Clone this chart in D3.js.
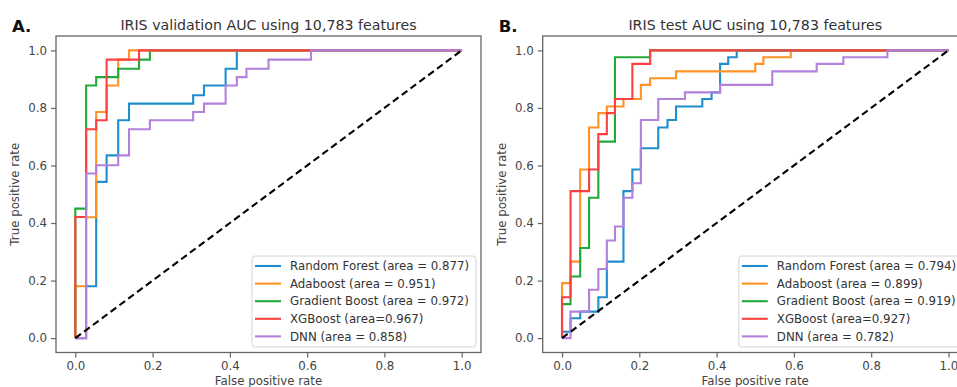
<!DOCTYPE html>
<html>
<head>
<meta charset="utf-8">
<script src="https://cdn.jsdelivr.net/npm/d3@7"></script>
<style>
    body { margin: 0; background: #fff; }
    svg text { font-family: "DejaVu Sans", sans-serif; }
</style>
</head>
<body>
<div id="chart"></div>
<script>
(function() {

    var width = 957;
    var height = 387;

    // names + colours of the five models
    var models = ["Random Forest", "Adaboost", "Gradient Boost", "XGBoost", "DNN"];
    var colors = ["#1f8ecd", "#ff9326", "#23a83a", "#ff4040", "#b380dc"];

    var ticks = [0.0, 0.2, 0.4, 0.6, 0.8, 1.0];

    // panel A, validation set: [fpr, tpr] corners
    var valRF = [[0,0],[0.028,0],[0.028,0.18],[0.054,0.18],[0.054,0.543],[0.081,0.543],[0.081,0.635],[0.111,0.635],[0.111,0.757],[0.139,0.757],[0.139,0.815],[0.305,0.815],[0.305,0.844],[0.333,0.844],[0.333,0.878],[0.389,0.878],[0.389,0.936],[0.418,0.936],[0.418,1],[1,1]];
    var valAda = [[0,0],[0,0.18],[0.028,0.18],[0.028,0.42],[0.054,0.42],[0.054,0.786],[0.081,0.786],[0.081,0.878],[0.111,0.878],[0.111,0.968],[0.139,0.968],[0.139,1],[1,1]];
    var valGB = [[0,0],[0,0.45],[0.028,0.45],[0.028,0.878],[0.054,0.878],[0.054,0.907],[0.111,0.907],[0.111,0.936],[0.165,0.936],[0.165,0.968],[0.193,0.968],[0.193,1],[1,1]];
    var valXGB = [[0,0],[0,0.421],[0.028,0.421],[0.028,0.726],[0.054,0.726],[0.054,0.757],[0.081,0.757],[0.081,0.968],[0.165,0.968],[0.165,1],[1,1]];
    var valDNN = [[0,0],[0.028,0],[0.028,0.572],[0.054,0.572],[0.054,0.601],[0.111,0.601],[0.111,0.635],[0.139,0.635],[0.139,0.726],[0.193,0.726],[0.193,0.757],[0.305,0.757],[0.305,0.786],[0.333,0.786],[0.333,0.815],[0.389,0.815],[0.389,0.878],[0.418,0.878],[0.418,0.907],[0.443,0.907],[0.443,0.936],[0.5,0.936],[0.5,0.968],[0.61,0.968],[0.61,1],[1,1]];
    var valAreas = ["0.877", "0.951", "0.972", "0.967", "0.858"];

    // panel B, test set
    var testRF = [[0,0],[0,0.022],[0.022,0.022],[0.022,0.069],[0.047,0.069],[0.047,0.092],[0.094,0.092],[0.094,0.142],[0.116,0.142],[0.116,0.266],[0.159,0.266],[0.159,0.511],[0.182,0.511],[0.182,0.586],[0.204,0.586],[0.204,0.66],[0.249,0.66],[0.249,0.732],[0.273,0.732],[0.273,0.758],[0.295,0.758],[0.295,0.805],[0.363,0.805],[0.363,0.831],[0.387,0.831],[0.387,0.854],[0.409,0.854],[0.409,0.953],[0.43,0.953],[0.43,0.976],[0.452,0.976],[0.452,1],[1,1]];
    var testAda = [[0,0],[0,0.191],[0.022,0.191],[0.022,0.266],[0.047,0.266],[0.047,0.586],[0.07,0.586],[0.07,0.732],[0.094,0.732],[0.094,0.782],[0.116,0.782],[0.116,0.805],[0.159,0.805],[0.159,0.831],[0.204,0.831],[0.204,0.88],[0.228,0.88],[0.228,0.903],[0.295,0.903],[0.295,0.927],[0.5,0.927],[0.5,0.953],[0.521,0.953],[0.521,0.976],[0.592,0.976],[0.592,1],[1,1]];
    var testGB = [[0,0],[0,0.118],[0.022,0.118],[0.022,0.214],[0.047,0.214],[0.047,0.313],[0.07,0.313],[0.07,0.488],[0.094,0.488],[0.094,0.683],[0.137,0.683],[0.137,0.976],[0.228,0.976],[0.228,1],[1,1]];
    var testXGB = [[0,0],[0,0.142],[0.022,0.142],[0.022,0.511],[0.07,0.511],[0.07,0.586],[0.094,0.586],[0.094,0.709],[0.116,0.709],[0.116,0.782],[0.137,0.782],[0.137,0.831],[0.182,0.831],[0.182,0.953],[0.228,0.953],[0.228,1],[1,1]];
    var testDNN = [[0,0],[0.022,0],[0.022,0.092],[0.07,0.092],[0.07,0.168],[0.094,0.168],[0.094,0.24],[0.116,0.24],[0.116,0.339],[0.137,0.339],[0.137,0.388],[0.159,0.388],[0.159,0.488],[0.182,0.488],[0.182,0.538],[0.204,0.538],[0.204,0.758],[0.249,0.758],[0.249,0.831],[0.318,0.831],[0.318,0.854],[0.409,0.854],[0.409,0.88],[0.544,0.88],[0.544,0.927],[0.659,0.927],[0.659,0.953],[0.728,0.953],[0.728,0.976],[0.842,0.976],[0.842,1],[1,1]];
    var testAreas = ["0.794", "0.899", "0.919", "0.927", "0.782"];

    var svg = d3.select("#chart")
        .append("svg")
        .attr("width", width)
        .attr("height", height);

    drawPanel(svg, {
        letter: "A.",
        title: "IRIS validation AUC using 10,783 features",
        left: 56, right: 481,
        curves: [valRF, valAda, valGB, valXGB, valDNN],
        areas: valAreas
    });

    drawPanel(svg, {
        letter: "B.",
        title: "IRIS test AUC using 10,783 features",
        left: 542.7, right: 967.8,
        curves: [testRF, testAda, testGB, testXGB, testDNN],
        areas: testAreas
    });

    function drawPanel(svg, p) {
        var top = 36, bottom = 352.5;
        var axisColor = "#666";
        var textColor = "#444";

        var x = d3.scaleLinear().domain([-0.05, 1.05]).range([p.left, p.right]);
        var y = d3.scaleLinear().domain([-0.05, 1.05]).range([bottom, top]);

        var g = svg.append("g");

        // curves
        var line = d3.line()
            .x(function (d) { return x(d[0]) })
            .y(function (d) { return y(d[1]) });

        p.curves.forEach(function (c, i) {
            g.append("path")
                .datum(c)
                .attr("d", line)
                .attr("fill", "none")
                .attr("stroke", colors[i])
                .attr("stroke-width", 2.1)
                .attr("stroke-linejoin", "miter");
        });

        // chance line
        g.append("path")
            .datum([[0, 0], [1, 1]])
            .attr("d", line)
            .attr("fill", "none")
            .attr("stroke", "#000")
            .attr("stroke-width", 2.1)
            .attr("stroke-dasharray", "7,4");

        // axes
        var xAxis = d3.axisBottom(x).tickValues(ticks).tickFormat(d3.format(".1f")).tickSizeOuter(0).tickSize(5).tickPadding(4);
        var yAxis = d3.axisLeft(y).tickValues(ticks).tickFormat(d3.format(".1f")).tickSizeOuter(0).tickSize(5).tickPadding(4);

        var gx = g.append("g").attr("transform", "translate(0," + bottom + ")").call(xAxis);
        var gy = g.append("g").attr("transform", "translate(" + p.left + ",0)").call(yAxis);
        [gx, gy].forEach(function (a) {
            a.select(".domain").remove();
            a.selectAll("line").attr("stroke", axisColor).attr("stroke-width", 1.2);
            a.selectAll("text").attr("fill", textColor).style("font-size", "11.8px");
        });

        // frame
        g.append("rect")
            .attr("x", p.left)
            .attr("y", top)
            .attr("width", p.right - p.left)
            .attr("height", bottom - top)
            .attr("fill", "none")
            .attr("stroke", axisColor)
            .attr("stroke-width", 1.3);

        // titles and labels
        g.append("text")
            .attr("x", (p.left + p.right) / 2)
            .attr("y", 30)
            .attr("text-anchor", "middle")
            .attr("fill", "#333")
            .style("font-size", "14.2px")
            .text(p.title);

        g.append("text")
            .attr("x", p.left - 44)
            .attr("y", 32)
            .attr("fill", "#111")
            .style("font-size", "16.5px")
            .style("font-weight", "bold")
            .text(p.letter);

        g.append("text")
            .attr("transform", "translate(" + (p.left - 37) + "," + ((top + bottom) / 2) + ") rotate(-90)")
            .attr("text-anchor", "middle")
            .attr("fill", textColor)
            .style("font-size", "11.8px")
            .text("True positive rate");

        g.append("text")
            .attr("x", (p.left + 481 - 56 + p.left) / 2)
            .attr("y", 384.5)
            .attr("text-anchor", "middle")
            .attr("fill", textColor)
            .style("font-size", "11.8px")
            .text("False positive rate");

        // legend, lower right
        var lx = p.right - 229, ly = 256;
        var lg = g.append("g").attr("transform", "translate(" + lx + "," + ly + ")");
        lg.append("rect")
            .attr("width", 224)
            .attr("height", 91)
            .attr("rx", 3)
            .attr("fill", "#fff")
            .attr("fill-opacity", 0.85)
            .attr("stroke", "#d4d4d4")
            .attr("stroke-width", 1);

        models.forEach(function (m, i) {
            var ry = 10 + i * 17.6;
            lg.append("line")
                .attr("x1", 3).attr("x2", 29)
                .attr("y1", ry).attr("y2", ry)
                .attr("stroke", colors[i])
                .attr("stroke-width", 2.1);
            var label = m === "XGBoost" ? m + " (area=" + p.areas[i] + ")" : m + " (area = " + p.areas[i] + ")";
            lg.append("text")
                .attr("x", 38)
                .attr("y", ry + 4.2)
                .attr("fill", "#333")
                .style("font-size", "11.8px")
                .text(label);
        });
    }
})();
</script>
</body>
</html>
